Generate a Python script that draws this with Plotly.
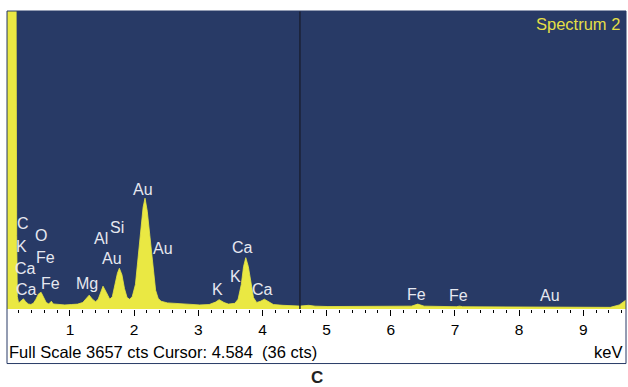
import plotly.graph_objects as go

# ---- data ----
energy_kev = [0.02, 0.16, 0.17, 0.18, 0.20, 0.24, 0.275, 0.31, 0.35, 0.39, 0.43, 0.47, 0.51, 0.55,
              0.59, 0.63, 0.67, 0.71, 0.74, 0.82, 0.92, 1.02, 1.12, 1.20, 1.26, 1.30, 1.35, 1.40,
              1.44, 1.48, 1.515, 1.57, 1.62, 1.66, 1.70, 1.74, 1.77, 1.81, 1.85, 1.89, 1.93,
              1.97, 2.02, 2.06, 2.10, 2.14, 2.17, 2.205, 2.245, 2.275, 2.305, 2.335, 2.375,
              2.42, 2.52, 2.62, 2.82, 3.02, 3.17, 3.27, 3.325, 3.40, 3.47, 3.57, 3.62, 3.67,
              3.705, 3.74, 3.78, 3.82, 3.86, 3.91, 3.97, 4.03, 4.09, 4.17, 4.32, 4.52, 4.584,
              4.72, 4.82, 5.02, 5.52, 6.02, 6.32, 6.42, 6.52, 7.02, 7.07, 7.12, 7.52, 8.02,
              8.52, 9.02, 9.42, 9.56, 9.665]
counts = [4200, 4200, 900, 150, 75, 100, 125, 90, 62, 56, 70, 120, 185, 205,
          150, 80, 62, 95, 62, 55, 50, 55, 60, 80, 130, 170, 120, 90,
          120, 220, 280, 200, 120, 150, 300, 440, 500, 420, 250, 140, 120,
          150, 300, 600, 950, 1250, 1360, 1200, 900, 680, 420, 230, 130,
          95, 75, 70, 60, 50, 55, 85, 115, 80, 60, 70, 120, 300,
          520, 630, 520, 300, 140, 80, 95, 120, 90, 55, 45, 40, 36,
          45, 35, 30, 30, 30, 35, 60, 35, 28, 35, 28, 25, 22,
          20, 18, 20, 50, 110]

full_scale = 3657
cursor_kev = 4.584
cursor_cts = 36

label_text = ["C", "K", "Ca", "Ca", "O", "Fe", "Fe", "Mg", "Al", "Si", "Au", "Au", "Au",
              "K", "K", "Ca", "Ca", "Fe", "Fe", "Au"]
label_kev = [0.263, 0.248, 0.315, 0.326, 0.544, 0.626, 0.70, 1.261, 1.479, 1.738, 1.650,
             2.133, 2.445, 3.296, 3.572, 3.692, 4.003, 6.403, 7.052, 8.481]
label_cts = [1052, 764, 499, 242, 908, 634, 315, 307, 867, 1002, 622,
             1469, 745, 242, 405, 752, 242, 180, 163, 163]

tick_values = [1, 2, 3, 4, 5, 6, 7, 8, 9]

NAVY = "#283A66"
YELLOW = "#EAE843"
FONT = "Liberation Sans, Arial, sans-serif"

fig = go.Figure()
fig.add_trace(go.Scatter(
    x=energy_kev, y=counts, mode="lines", fill="tozeroy",
    line=dict(color=YELLOW, width=0.8), fillcolor=YELLOW,
    hoverinfo="skip", showlegend=False,
))

annotations = []
for t, xk, yc in zip(label_text, label_kev, label_cts):
    annotations.append(dict(x=xk, y=yc, xref="x", yref="y", text=t, showarrow=False,
                            xanchor="center", yanchor="middle",
                            font=dict(family=FONT, size=16, color="#E6E8F0")))

annotations += [
    dict(x=0.993, y=0.956, xref="paper", yref="paper", text="Spectrum 2", showarrow=False,
         xanchor="right", yanchor="middle", font=dict(family=FONT, size=16.5, color="#E4DF45")),
    dict(x=0.0, y=-0.143, xref="paper", yref="paper",
         text=f"Full Scale {full_scale} cts Cursor: {cursor_kev:.3f}\u00a0 ({cursor_cts} cts)",
         showarrow=False, xanchor="left", yanchor="middle",
         font=dict(family=FONT, size=16.5, color="black")),
    dict(x=0.997, y=-0.143, xref="paper", yref="paper", text="keV", showarrow=False,
         xanchor="right", yanchor="middle", font=dict(family=FONT, size=16.5, color="black")),
    dict(x=0.5008, y=-0.2315, xref="paper", yref="paper", text="<b>C</b>", showarrow=False,
         xanchor="center", yanchor="middle", font=dict(family=FONT, size=17, color="#222222")),
]

shapes = [
    dict(type="line", xref="x", yref="paper", x0=cursor_kev, x1=cursor_kev, y0=0, y1=1,
         line=dict(color="#1B1F33", width=1.5)),
    dict(type="rect", xref="paper", yref="paper", x0=0, x1=1, y0=-0.183, y1=1.0,
         line=dict(color=NAVY, width=1)),
]

fig.update_layout(
    width=628, height=387,
    margin=dict(l=7, r=2, t=11, b=78, pad=0),
    paper_bgcolor="white", plot_bgcolor=NAVY,
    annotations=annotations, shapes=shapes,
    xaxis=dict(range=[0.019, 9.665], tickmode="linear", tick0=0, dtick=1,
               ticks="outside", ticklen=6, tickwidth=1, tickcolor="black",
               showgrid=False, zeroline=False, showline=False,
               tickfont=dict(family=FONT, size=15.5, color="black"),
               minor=dict(dtick=0.2, tick0=0, ticks="outside", ticklen=3,
                          tickcolor="black", tickwidth=1, showgrid=False),
               fixedrange=True),
    yaxis=dict(range=[0, full_scale], visible=False, showgrid=False, zeroline=False,
               fixedrange=True),
)

fig.write_html("out.html")
